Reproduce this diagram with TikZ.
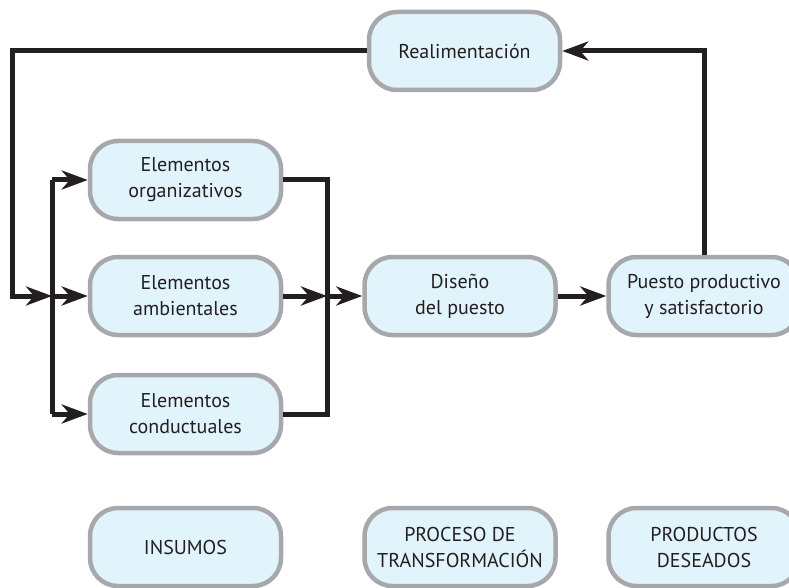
\documentclass[tikz,border=0pt]{standalone}
\usepackage{fontspec}
\setmainfont{PT Sans}
\usetikzlibrary{arrows.meta}
\definecolor{boxfill}{HTML}{E1F3FB}
\definecolor{boxline}{HTML}{A6A8AB}
\definecolor{ink}{HTML}{231F20}
\begin{document}
\begin{tikzpicture}[x=1pt,y=-1pt,
  blk/.style={draw=boxline, fill=boxfill, line width=4.5pt, rounded corners=28pt,
    minimum width=191pt, minimum height=78pt, align=center, inner sep=0pt,
    font=\fontsize{20}{26}\selectfont, text=ink},
  conn/.style={draw=ink, line width=5pt},
  arr/.style={conn, -{Stealth[length=26pt,width=19pt,inset=8pt]}}]
\useasboundingbox (0,0) rectangle (789,588);
\node[blk] (R) at (464.5,51) {Realimentación};
\node[blk] (O) at (185.5,180) {Elementos\\organizativos};
\node[blk] (A) at (185.5,296) {Elementos\\ambientales};
\node[blk] (C) at (185.5,414) {Elementos\\conductuales};
\node[blk] (D) at (460,296) {Diseño\\del puesto};
\node[blk] (P) at (704,296) {Puesto productivo\\y satisfactorio};
\node[blk] (I) at (185.5,547) {INSUMOS};
\node[blk] (T) at (460,547) {PROCESO DE\\TRANSFORMACIÓN};
\node[blk] (S) at (704,547) {PRODUCTOS\\DESEADOS};
\coordinate (fa) at (12,51);
\coordinate (fb) at (12,296);
\coordinate (jl) at (52,296);
\coordinate (jr) at (327,296);
% feedback loop
\draw[arr] (P.north) -- (P.north |- R.east) -- (R.east);
\draw[arr] (R.west) -- (fa) -- (fb) -- (jl);
% left distribution bar
\draw[conn] (jl |- O.west) -- (jl |- C.west);
\draw[arr] (jl |- O.west) -- (O.west);
\draw[arr] (jl) -- (A.west);
\draw[arr] (jl |- C.west) -- (C.west);
% right collector
\draw[conn] (O.east) -- (jr |- O.east) -- (jr |- C.east) -- (C.east);
\draw[arr] (A.east) -- (jr);
\draw[arr] (jr) -- (D.west);
\draw[arr] (D.east) -- (P.west);
\end{tikzpicture}
\end{document}
